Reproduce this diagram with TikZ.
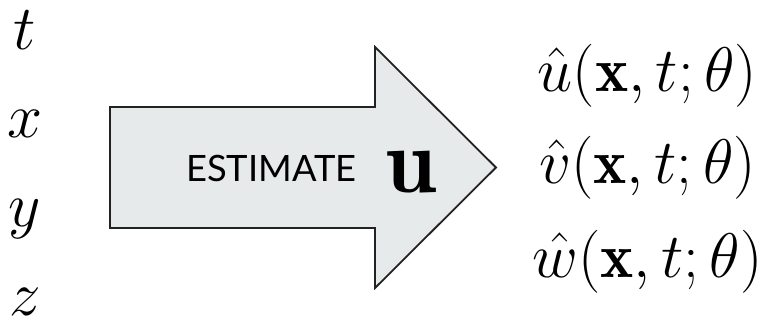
\RequirePackage{fix-cm}
\documentclass[tikz,border=0pt]{standalone}
\usepackage{fontspec}
\newfontfamily\latofont{Lato}
\usepackage{amsmath}
\definecolor{arrowfill}{HTML}{E7EAEA}
\definecolor{arrowline}{HTML}{222222}
\begin{document}
\begin{tikzpicture}[x=1pt,y=-1pt,
  var/.style={inner sep=0pt,anchor=base,font=\fontsize{63}{70}\selectfont},
  outp/.style={inner sep=0pt,anchor=base,font=\fontsize{63}{70}\selectfont},
  bigarrow/.style={draw=arrowline,fill=arrowfill,line width=1.8pt,line join=miter}]
\useasboundingbox (0,0) rectangle (776,320);
% inputs
\node[var] (t) at (25,50) {$t$};
\node[var] (x) at (25,138) {$x$};
\node[var] (y) at (25,227) {$y$};
\node[var] (z) at (25,316) {$z$};
% big arrow
\draw[bigarrow] (110,107) -- (375,107) -- (375,47) -- (496,167.5) -- (375,288) -- (375,228) -- (110,228) -- cycle;
\node[inner sep=0pt,anchor=base west,font=\latofont\fontsize{36.3}{40}\selectfont] (est) at (186,182) {ESTIMATE};
\node[inner sep=0pt,anchor=base,font=\fontsize{92}{100}\selectfont] (u) at (411,193) {$\mathbf{u}$};
% outputs
\node[outp] (uh) at (647.5,92) {$\hat{u}(\mathbf{x},t;\theta)$};
\node[outp] (vh) at (647.5,184) {$\hat{v}(\mathbf{x},t;\theta)$};
\node[outp] (wh) at (647.5,277) {$\hat{w}(\mathbf{x},t;\theta)$};
\end{tikzpicture}
\end{document}
